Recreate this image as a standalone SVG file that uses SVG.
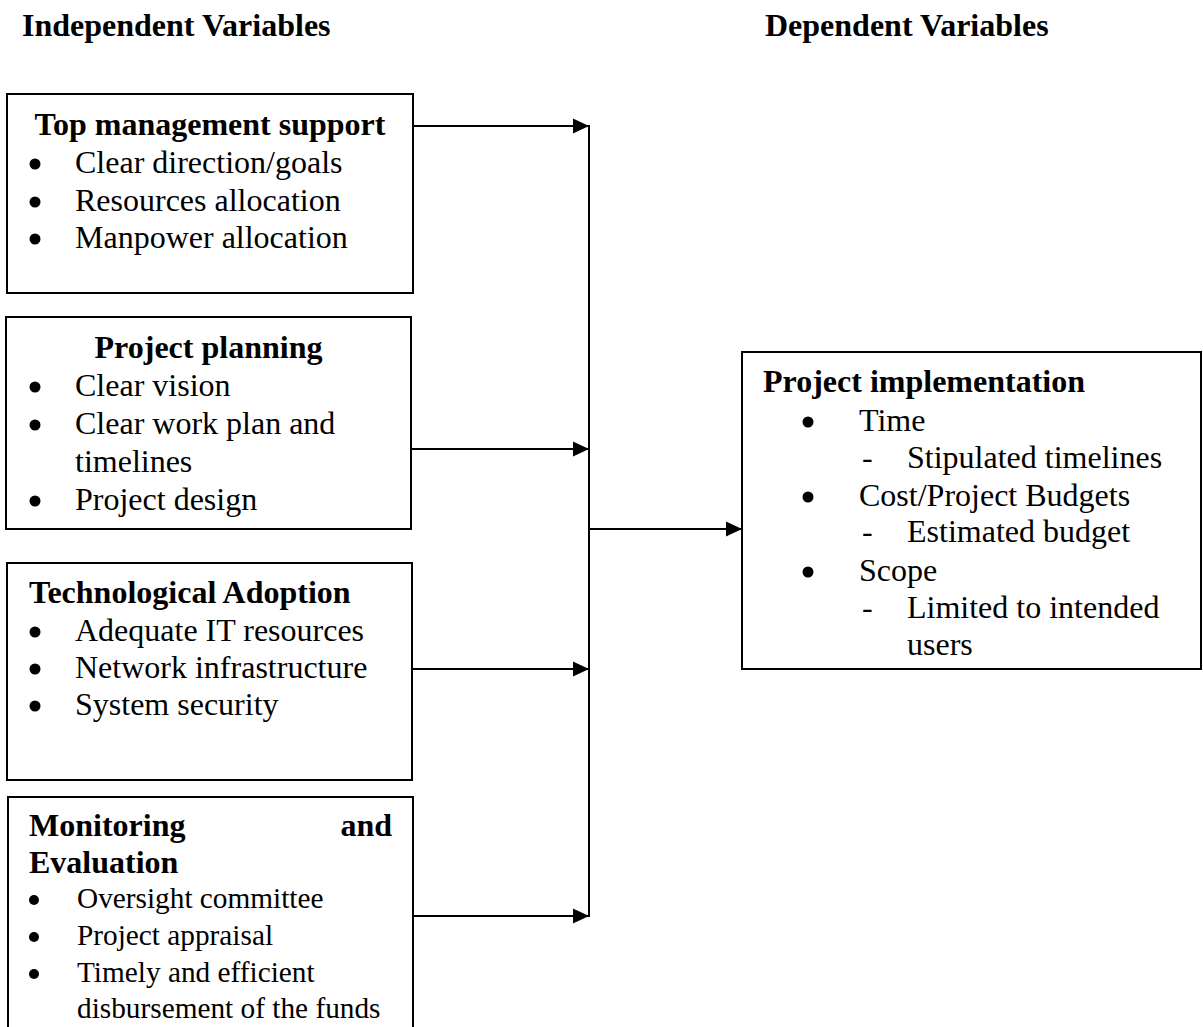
<svg xmlns="http://www.w3.org/2000/svg" width="1203" height="1027" viewBox="0 0 1203 1027">
<style>
text{font-family:"Liberation Serif","Times New Roman",serif;fill:#000;}
.h{font-size:32px;font-weight:bold;}
.t{font-size:32px;}
.s{font-size:29.3px;}
.box{fill:#fff;stroke:#000;stroke-width:2;}
.b{fill:#000;}
.c{stroke:#000;stroke-width:2;fill:none;}
</style>
<defs>
<marker id="ah" markerUnits="userSpaceOnUse" markerWidth="17" markerHeight="16" viewBox="0 0 17 16" refX="16" refY="8" orient="auto">
<path d="M0,0.5 L16,8 L0,15.5 Z" fill="#000"/>
</marker>
</defs>
<rect width="1203" height="1027" fill="#fff"/>

<g id="headers">
<text class="h" x="22" y="36">Independent Variables</text>
<text class="h" x="765" y="36">Dependent Variables</text>
</g>

<g id="node-top-management">
<rect class="box" x="7" y="94" width="406" height="199"/>
<text class="h" x="210" y="135" text-anchor="middle">Top management support</text>
<circle class="b" cx="35" cy="164" r="5.5"/>
<text class="t" x="75" y="173">Clear direction/goals</text>
<circle class="b" cx="35" cy="202" r="5.5"/>
<text class="t" x="75" y="211">Resources allocation</text>
<circle class="b" cx="35" cy="239" r="5.5"/>
<text class="t" x="75" y="248">Manpower allocation</text>
</g>

<g id="node-project-planning">
<rect class="box" x="6" y="317" width="405" height="212"/>
<text class="h" x="208.5" y="358" text-anchor="middle">Project planning</text>
<circle class="b" cx="35" cy="387" r="5.5"/>
<text class="t" x="75" y="396">Clear vision</text>
<circle class="b" cx="35" cy="425" r="5.5"/>
<text class="t" x="75" y="434">Clear work plan and</text>
<text class="t" x="75" y="472">timelines</text>
<circle class="b" cx="35" cy="501" r="5.5"/>
<text class="t" x="75" y="510">Project design</text>
</g>

<g id="node-technological-adoption">
<rect class="box" x="7" y="563" width="405" height="217"/>
<text class="h" x="29" y="603">Technological Adoption</text>
<circle class="b" cx="35" cy="632" r="5.5"/>
<text class="t" x="75" y="641">Adequate IT resources</text>
<circle class="b" cx="35" cy="669" r="5.5"/>
<text class="t" x="75" y="678">Network infrastructure</text>
<circle class="b" cx="35" cy="706" r="5.5"/>
<text class="t" x="75" y="715">System security</text>
</g>

<g id="node-monitoring-evaluation">
<rect class="box" x="8" y="797" width="405" height="260"/>
<text class="h" x="29" y="836">Monitoring</text>
<text class="h" x="392" y="836" text-anchor="end">and</text>
<text class="h" x="29" y="873">Evaluation</text>
<circle class="b" cx="34" cy="900" r="5"/>
<text class="s" x="77" y="908">Oversight committee</text>
<circle class="b" cx="34" cy="937" r="5"/>
<text class="s" x="77" y="945">Project appraisal</text>
<circle class="b" cx="34" cy="974" r="5"/>
<text class="s" x="77" y="982">Timely and efficient</text>
<text class="s" x="77" y="1018">disbursement of the funds</text>
</g>

<g id="node-project-implementation">
<rect class="box" x="742" y="352" width="459" height="317"/>
<text class="h" x="763" y="392">Project implementation</text>
<circle class="b" cx="808" cy="422" r="5.5"/>
<text class="t" x="859" y="431">Time</text>
<text class="t" x="862" y="468">-</text>
<text class="t" x="907" y="468">Stipulated timelines</text>
<circle class="b" cx="808" cy="497" r="5.5"/>
<text class="t" x="859" y="506">Cost/Project Budgets</text>
<text class="t" x="862" y="542">-</text>
<text class="t" x="907" y="542">Estimated budget</text>
<circle class="b" cx="808" cy="572" r="5.5"/>
<text class="t" x="859" y="581">Scope</text>
<text class="t" x="862" y="618">-</text>
<text class="t" x="907" y="618">Limited to intended</text>
<text class="t" x="907" y="655">users</text>
</g>

<g id="connectors">
<line class="c" x1="413" y1="126" x2="589" y2="126" marker-end="url(#ah)"/>
<line class="c" x1="411" y1="449" x2="589" y2="449" marker-end="url(#ah)"/>
<line class="c" x1="412" y1="669" x2="589" y2="669" marker-end="url(#ah)"/>
<line class="c" x1="413" y1="916" x2="589" y2="916" marker-end="url(#ah)"/>
<line class="c" x1="589" y1="125" x2="589" y2="917"/>
<line class="c" x1="590" y1="529" x2="742" y2="529" marker-end="url(#ah)"/>
</g>
</svg>
